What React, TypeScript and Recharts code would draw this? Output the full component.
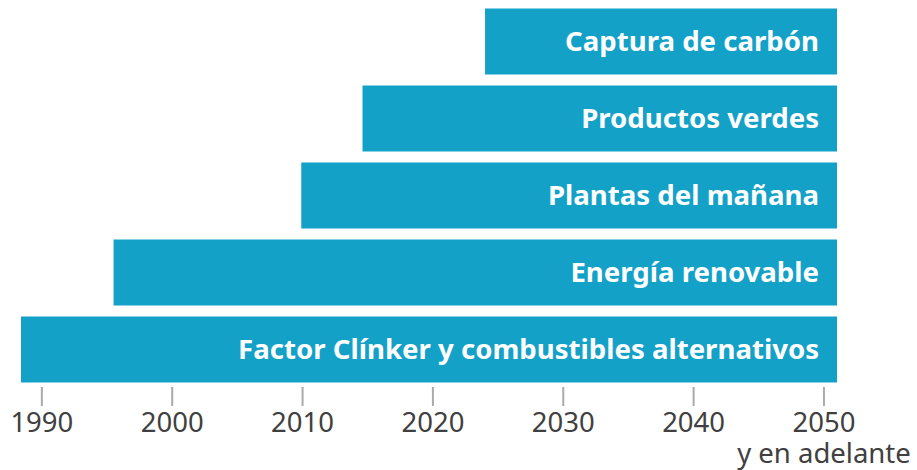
import React from "react";
import { BarChart, Bar, XAxis, YAxis, LabelList } from "recharts";

const categories = [
  "Captura de carbón",
  "Productos verdes",
  "Plantas del mañana",
  "Energía renovable",
  "Factor Clínker y combustibles alternativos",
];
const startYears = [2024, 2014.6, 2009.9, 1995.5, 1988.4];
const endYears = [2051, 2051, 2051, 2051, 2051];
const yearTicks = [1990, 2000, 2010, 2020, 2030, 2040, 2050];
const lastTickNote = "y en adelante";

const data = categories.map((name, i) => ({
  name,
  span: [startYears[i], endYears[i]],
}));

const FONT = "'Noto Sans', 'Open Sans', sans-serif";

// tick line + year label, plus the note under the last year
function YearTick(props: any) {
  const { x, y, payload } = props;
  const last = payload.value === yearTicks[yearTicks.length - 1];
  return (
    <g>
      <line x1={x} x2={x} y1={y - 9} y2={y + 10} stroke="#aaaaaa" strokeWidth={2} />
      <text x={x} y={y} dy={36} textAnchor="middle" fill="#404040" fontSize={27.5} fontFamily={FONT}>
        {payload.value}
      </text>
      {last && (
        <text x={x} y={y} dy={67} textAnchor="middle" fill="#404040" fontSize={27.5} fontFamily={FONT}>
          {lastTickNote}
        </text>
      )}
    </g>
  );
}

export default function App() {
  return (
    <div style={{ width: 917, height: 470 }}>
      <style>{"body{margin:0}"}</style>
      <BarChart
        width={917}
        height={470}
        data={data}
        layout="vertical"
        margin={{ top: 3, right: 80, left: 21, bottom: 0 }}
        barCategoryGap={5.5}
      >
        <XAxis
          type="number"
          domain={[1988.4, 2051]}
          ticks={yearTicks}
          axisLine={false}
          tickLine={false}
          height={82}
          tick={<YearTick />}
          interval={0}
          allowDataOverflow
        />
        <YAxis type="category" dataKey="name" hide />
        <Bar dataKey="span" fill="#13a1c8" isAnimationActive={false}>
          <LabelList
            dataKey="name"
            position="insideRight"
            offset={18}
            fill="#ffffff"
            fontSize={27.6}
            fontWeight="bold"
            fontFamily={FONT}
          />
        </Bar>
      </BarChart>
    </div>
  );
}
